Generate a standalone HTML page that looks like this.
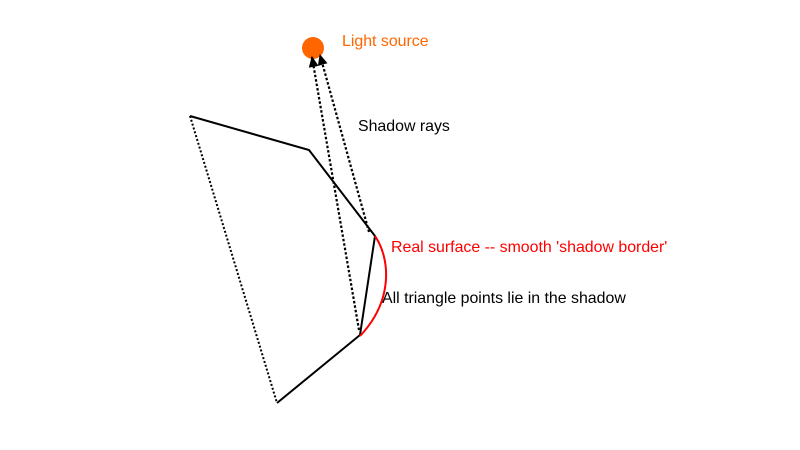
<!DOCTYPE html>
<html><head><style>body{margin:0;background:#fff}svg{display:block}</style></head><body>
<svg width="800" height="450" viewBox="0 0 800 450" xmlns="http://www.w3.org/2000/svg" font-family="Liberation Sans, sans-serif" font-size="15.9">
<defs><marker id="a" markerWidth="11" markerHeight="11" refX="10" refY="5" orient="auto" markerUnits="userSpaceOnUse"><path d="M0,0 L11,5 L0,10 z" fill="#000"/></marker></defs>
<circle cx="313" cy="48" r="11" fill="#ff6600"/>
<text x="342" y="46" fill="#ff6600">Light source</text>
<text x="358" y="131" fill="#000">Shadow rays</text>
<text x="391" y="252" fill="#ff0000">Real surface -- smooth 'shadow border'</text>
<text x="382" y="303" fill="#000">All triangle points lie in the shadow</text>
<polyline points="190,116 309,150 375,236 360,335 277,403" fill="none" stroke="#000" stroke-width="2"/>
<line x1="190" y1="116" x2="277" y2="403" stroke="#000" stroke-width="2" stroke-dasharray="2,2"/>
<line x1="359" y1="330" x2="312" y2="57" stroke="#000" stroke-width="2.2" stroke-dasharray="2.5,2" marker-end="url(#a)"/>
<line x1="369" y1="232" x2="320" y2="55" stroke="#000" stroke-width="2.2" stroke-dasharray="2.5,2" marker-end="url(#a)"/>
<path d="M375,236 C390,258 394,300 360,336" fill="none" stroke="#ff0000" stroke-width="2"/>
</svg>
</body></html>
